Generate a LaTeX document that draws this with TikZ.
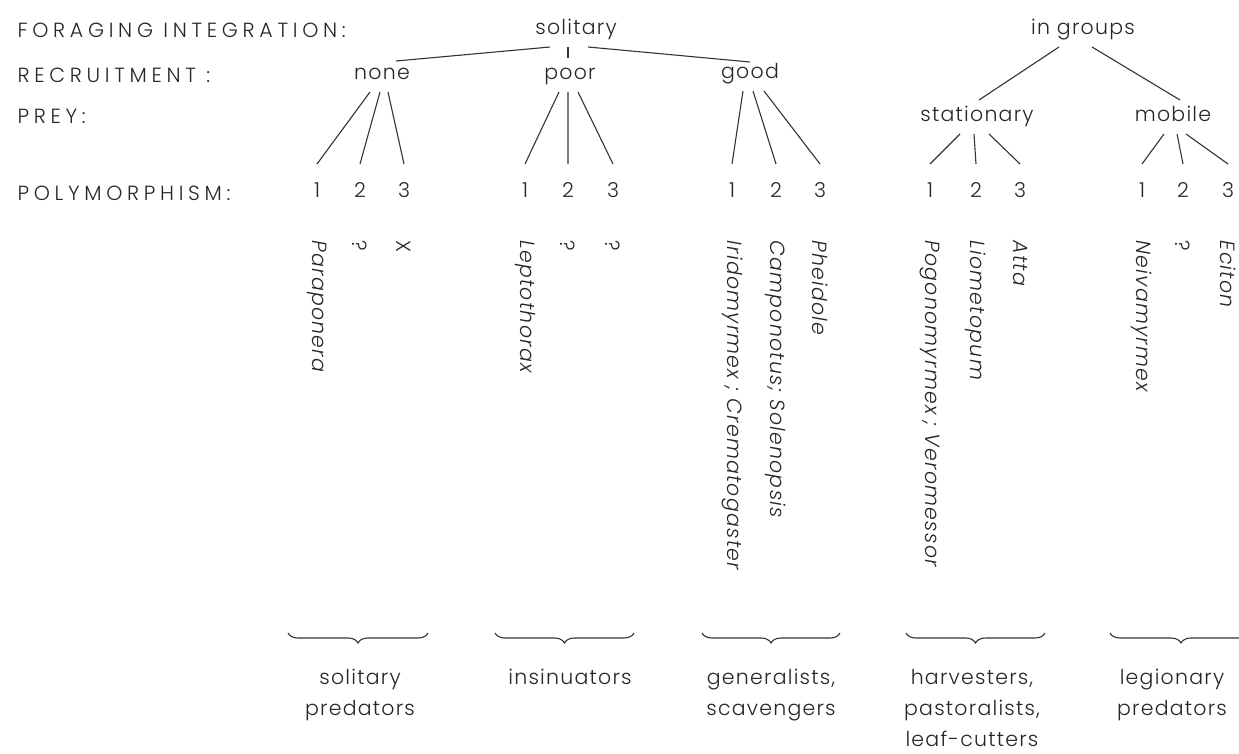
\documentclass[tikz,border=0pt]{standalone}
\usepackage{fontspec}
\IfFontExistsTF{Poppins Light}{%
  \IfFontExistsTF{Poppins Light Italic}{%
    \setmainfont{Poppins Light}[ItalicFont={Poppins Light Italic},LetterSpace=6]}{%
    \setmainfont{Poppins Light}[LetterSpace=6]}}{%
  \setmainfont{Poppins}[LetterSpace=6]}
\usetikzlibrary{decorations.pathreplacing}
\newcommand\antfont{\fontsize{20.5}{31}\selectfont}
\begin{document}
\begin{tikzpicture}[x=1pt,y=-1pt,
  rowlbl/.style={anchor=west,inner sep=0pt,font=\antfont\addfontfeature{LetterSpace=23}},
  branch/.style={text height=14pt,text depth=4pt,inner sep=0pt,outer ysep=8pt,font=\antfont},
  digit/.style={text height=14pt,text depth=4pt,inner sep=0pt,outer ysep=20pt,font=\antfont},
  species/.style={rotate=-90,anchor=west,inner sep=0pt,font=\antfont\itshape},
  guild/.style={anchor=north,align=center,inner sep=0pt,font=\antfont},
  curly/.style={decorate,decoration={brace,mirror,amplitude=10pt}},
  every path/.style={black!80,line width=1.1pt},
  every node/.style={text=black!85}]
\useasboundingbox (0,0) rectangle (1239,754);
% row headings
\node[rowlbl] (rForage) at (17,30) {FORAGING INTEGRATION:};
\node[rowlbl] (rRecruit) at (17,75) {RECRUITMENT :};
\node[rowlbl] (rPrey) at (17,116) {PREY:};
\node[rowlbl] (rPoly) at (17,193) {POLYMORPHISM:};
% foraging and recruitment
\node[branch] (sol) at (576,30) {solitary};
\node[branch] (grp) at (1083,30) {in groups};
\node[branch] (none) at (382,75) {none};
\node[branch] (poor) at (570,75) {poor};
\node[branch] (good) at (750,74) {good};
\node[branch] (stat) at (977,117) {stationary};
\node[branch] (mob) at (1173,117) {mobile};
\draw ([xshift=-26pt]sol.south) -- ([xshift=14pt,yshift=-3pt]none.north);
\draw ([xshift=-8pt]sol.south) -- ([xshift=-2pt]poor.north);
\draw ([xshift=12pt]sol.south) -- ([yshift=-5pt]good.north);
\draw ([xshift=-24pt]grp.south) -- ([xshift=2pt]stat.north);
\draw ([xshift=9pt]grp.south) -- ([xshift=7pt]mob.north);
% polymorphism
\node[digit] (n1) at (317,193) {1}; \node[digit] (n2) at (360,193) {2}; \node[digit] (n3) at (404,193) {3};
\node[digit] (p1) at (525,193) {1}; \node[digit] (p2) at (568,193) {2}; \node[digit] (p3) at (613,193) {3};
\node[digit] (g1) at (732,193) {1}; \node[digit] (g2) at (776,193) {2}; \node[digit] (g3) at (820,193) {3};
\node[digit] (s1) at (930,193) {1}; \node[digit] (s2) at (976,193) {2}; \node[digit] (s3) at (1020,193) {3};
\node[digit] (m1) at (1142,193) {1}; \node[digit] (m2) at (1183,193) {2}; \node[digit] (m3) at (1228,193) {3};
\draw ([xshift=-12pt]none.south) -- (n1.north) ([xshift=-2pt]none.south) -- (n2.north) ([xshift=6pt]none.south) -- (n3.north);
\draw ([xshift=-11pt]poor.south) -- (p1.north) ([xshift=-2pt]poor.south) -- (p2.north) ([xshift=8pt]poor.south) -- (p3.north);
\draw ([xshift=-7pt]good.south) -- (g1.north) ([xshift=3pt]good.south) -- (g2.north) ([xshift=14pt]good.south) -- (g3.north);
\draw ([xshift=-17pt]stat.south) -- (s1.north) ([xshift=-3pt]stat.south) -- (s2.north) ([xshift=12pt]stat.south) -- (s3.north);
\draw ([xshift=-9pt]mob.south) -- (m1.north) ([xshift=4pt]mob.south) -- (m2.north) ([xshift=13pt]mob.south) -- (m3.north);
% genera
\node[species] (sPar) at ([yshift=-18pt]n1.south) {Paraponera};
\node[species] (sN2) at ([yshift=-18pt]n2.south) {\upshape ?};
\node[species] (sN3) at ([yshift=-18pt]n3.south) {\upshape X};
\node[species] (sLep) at ([yshift=-18pt]p1.south) {Leptothorax};
\node[species] (sP2) at ([yshift=-18pt]p2.south) {\upshape ?};
\node[species] (sP3) at ([yshift=-18pt]p3.south) {\upshape ?};
\node[species] (sIri) at ([yshift=-18pt]g1.south) {Iridomyrmex ; Crematogaster};
\node[species] (sCam) at ([yshift=-18pt]g2.south) {Camponotus; Solenopsis};
\node[species] (sPhe) at ([yshift=-18pt]g3.south) {Pheidole};
\node[species] (sPog) at ([yshift=-18pt]s1.south) {Pogonomyrmex ; Veromessor};
\node[species] (sLio) at ([yshift=-18pt]s2.south) {Liometopum};
\node[species] (sAtt) at ([yshift=-18pt]s3.south) {Atta};
\node[species] (sNei) at ([yshift=-18pt]m1.south) {Neivamyrmex};
\node[species] (sM2) at ([yshift=-18pt]m2.south) {\upshape ?};
\node[species] (sEci) at ([yshift=-18pt]m3.south) {Eciton};
% guilds
\draw[curly] (288,633) -- (428,633);
\draw[curly] (495,633) -- (634,633);
\draw[curly] (702,633) -- (840,633);
\draw[curly] (906,633) -- (1045,633);
\draw[curly] (1110,633) -- (1252,633);
\node[guild] (gSol) at (360,669) {solitary\\predators};
\node[guild] (gIns) at (570,669) {insinuators};
\node[guild] (gGen) at (771,669) {generalists,\\scavengers};
\node[guild] (gHar) at (972,669) {harvesters,\\pastoralists,\\leaf-cutters};
\node[guild] (gLeg) at (1172,669) {legionary\\predators};
\end{tikzpicture}
\end{document}
